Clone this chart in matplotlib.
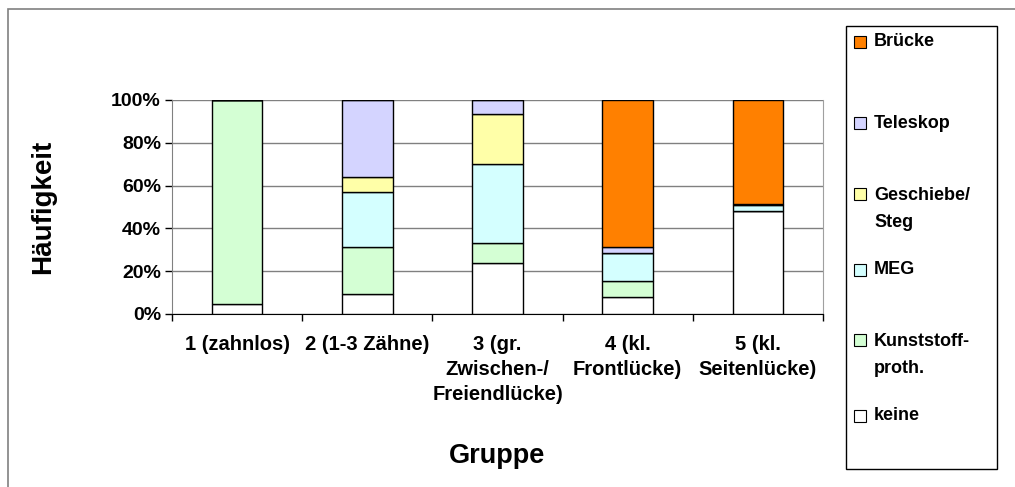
import matplotlib
matplotlib.use("Agg")
import matplotlib.pyplot as plt
from matplotlib.patches import Rectangle
import numpy as np

plt.rcParams['font.family'] = ['Liberation Sans', 'DejaVu Sans']
plt.rcParams['font.weight'] = 'bold'

groups = ["1 (zahnlos)", "2 (1-3 Zähne)", "3 (gr.\nZwischen-/\nFreiendlücke)",
          "4 (kl.\nFrontlücke)", "5 (kl.\nSeitenlücke)"]
series_names = ["keine", "Kunststoff-\nproth.", "MEG", "Geschiebe/\nSteg", "Teleskop", "Brücke"]
keine = [4.5, 9.2, 23.9, 8.1, 48.0]
kunststoff = [95.5, 22.1, 9.2, 7.5, 0.0]
meg = [0.0, 25.9, 37.2, 12.9, 2.9]
geschiebe = [0.0, 6.6, 23.2, 0.0, 0.7]
teleskop = [0.0, 36.2, 6.5, 2.9, 0.0]
bruecke = [0.0, 0.0, 0.0, 68.6, 48.4]
colors = ["#FFFFFF", "#D4FFD4", "#D4FFFF", "#FFFFA8", "#D4D4FF", "#FF8000"]
yticks = [0, 20, 40, 60, 80, 100]

W, H = 1015, 487
fig = plt.figure(figsize=(W / 100, H / 100), dpi=100)
fig.patches.append(Rectangle((8 / W, -0.1), 1.2, 1 - 9 / H + 0.1, transform=fig.transFigure,
                             fill=False, edgecolor="#808080", linewidth=1.2))

ax = fig.add_axes([172 / W, 1 - 314 / H, (823 - 172) / W, (314 - 100) / H])
data = [keine, kunststoff, meg, geschiebe, teleskop, bruecke]
x = np.arange(len(groups))
bottom = np.zeros(len(groups))
for vals, c, name in zip(data, colors, series_names):
    v = np.array(vals)
    ax.bar(x, v, bottom=bottom, width=0.39, color=c, edgecolor="black", linewidth=1.0,
           zorder=3, label=name)
    bottom += v

ax.set_xlim(-0.5, len(groups) - 0.5)
ax.set_ylim(0, 100)
ax.set_yticks(yticks)
ax.set_yticklabels([f"{t}%" for t in yticks], fontsize=14, fontweight='bold')
ax.yaxis.grid(True, color="#808080", linewidth=1.0, zorder=0)
ax.set_axisbelow(True)
ax.set_xticks(x)
ax.set_xticklabels(groups, fontsize=14.5, fontweight='bold', linespacing=1.42)
ax.tick_params(axis='x', length=0, pad=15)
ax.set_xticks(np.arange(-0.5, len(groups), 1.0), minor=True)
ax.tick_params(axis='x', which='minor', length=5, color="black", width=1)
ax.tick_params(axis='y', length=5, color="black", width=1, pad=3)
ax.spines['top'].set_visible(False)
ax.spines['left'].set_color("#808080")
ax.spines['right'].set_color("#A0A0A0")
ax.spines['bottom'].set_color("black")

fig.text(43 / W, 1 - 207 / H, "Häufigkeit", rotation=90, ha='center', va='center',
         fontsize=20, fontweight='bold')
fig.text(497 / W, 1 - 456 / H, "Gruppe", ha='center', va='center',
         fontsize=19.5, fontweight='bold')

# legend box
fig.patches.append(Rectangle((846 / W, 1 - 469 / H), (997 - 846) / W, (469 - 26) / H,
                             transform=fig.transFigure, fill=True, facecolor="white",
                             edgecolor="black", linewidth=1.0))
leg_y = [42, 123, 209, 270, 355, 416]
order = [5, 4, 3, 2, 1, 0]
for yy, i in zip(leg_y, order):
    first_line_y = yy if "\n" not in series_names[i] else yy - 15
    fig.patches.append(Rectangle((854 / W, 1 - (first_line_y + 6) / H), 12 / W, 12 / H,
                                 transform=fig.transFigure, facecolor=colors[i],
                                 edgecolor="black", linewidth=0.8))
    fig.text(874 / W, 1 - yy / H, series_names[i], ha='left', va='center',
             fontsize=13, fontweight='bold', linespacing=1.8)

fig.savefig("out.png", dpi=100)
